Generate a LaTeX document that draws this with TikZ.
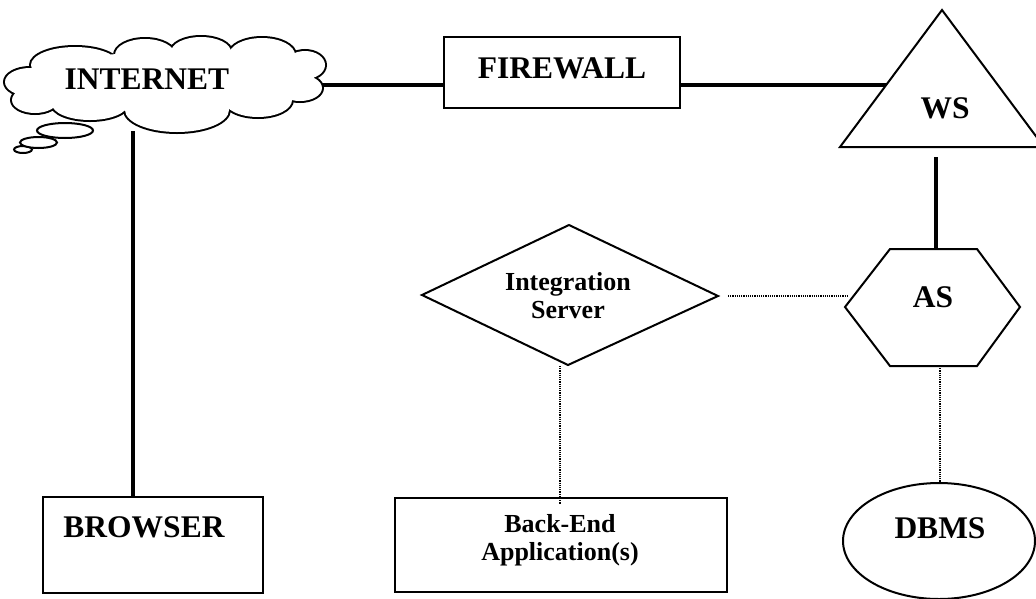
\documentclass[tikz,border=0pt]{standalone}
\usepackage{fontspec}
\setmainfont{Liberation Serif}
\usetikzlibrary{shapes.geometric}
\begin{document}
\begin{tikzpicture}[x=1pt, y=-1pt,
  outline/.style={draw, line width=2pt},
  boxnode/.style={outline, rectangle, inner sep=0pt},
  link/.style={line width=4.7pt},
  dotlink/.style={line width=1.3pt, dash pattern=on 1.1pt off 1.1pt},
  lbl/.style={font=\bfseries\fontsize{31.5}{35}\selectfont, inner sep=0pt},
  smalllbl/.style={font=\bfseries\fontsize{26}{28}\selectfont, align=center, inner sep=0pt}]
\clip (0,0) rectangle (1036,598);
\fill[white] (0,0) rectangle (1036,598);

% ---- cloud: union of lobes, stroked wide then filled so only the outer rim remains
\def\lobes{(30,82) ellipse [x radius=25, y radius=14]
  (75,65) ellipse [x radius=44, y radius=18]
  (145,55) ellipse [x radius=30, y radius=16]
  (201,52) ellipse [x radius=30, y radius=15]
  (262,55) ellipse [x radius=33, y radius=17]
  (305,65) ellipse [x radius=20, y radius=14]
  (300,88) ellipse [x radius=22, y radius=13]
  (258,100) ellipse [x radius=34, y radius=17]
  (177,110) ellipse [x radius=52, y radius=22]
  (90,104) ellipse [x radius=38, y radius=16]
  (35,100) ellipse [x radius=23, y radius=13]}
\draw[line width=4pt] \lobes;
\fill[white] \lobes (165,82) ellipse [x radius=135, y radius=30]
  (288,76) ellipse [x radius=26, y radius=16];
% thought bubbles
\draw[outline, fill=white] (23,149.5) ellipse [x radius=9, y radius=3.5];
\draw[outline, fill=white] (38.5,142.5) ellipse [x radius=18.5, y radius=5.5];
\draw[outline, fill=white] (65,130.5) ellipse [x radius=28, y radius=7.5];
\node[lbl, anchor=base] (inet) at (147,89) {INTERNET};
\coordinate (cloudE) at (322,85);
\coordinate (cloudS) at (133,131);

% ---- firewall
\node[boxnode, minimum width=236, minimum height=71] (fw) at (562,72.5) {};
\node[lbl, anchor=base] (fwtext) at (562,78) {FIREWALL};

% ---- web server triangle
\draw[outline, line join=miter] (942,10) -- (1044,147) -- (840,147) -- cycle;
\node[lbl, anchor=base] (ws) at (945,118) {WS};
\coordinate (wsW) at (886,85);
\coordinate (wsS) at (936,147);

% ---- application server hexagon
\draw[outline] (845,307) -- (890,249) -- (977,249) -- (1020,307) -- (977,366) -- (890,366) -- cycle;
\node[lbl, anchor=base] (as) at (933,307) {AS};
\coordinate (asN) at (936,249);
\coordinate (asS) at (940,366);
\coordinate (asW) at (847,296);

% ---- integration server diamond
\draw[outline] (422,295) -- (569,225) -- (718,296) -- (568,365) -- cycle;
\node[smalllbl] (is) at (568,296) {Integration\\Server};
\coordinate (isE) at (718,296);
\coordinate (isS) at (560,366);

% ---- lower row
\node[boxnode, minimum width=220, minimum height=96] (br) at (153,545) {};
\node[lbl, anchor=base] (brtext) at (144,537) {BROWSER};
\node[boxnode, minimum width=332, minimum height=94] (be) at (561,545) {};
\node[smalllbl] (betext) at (560,540) {Back-End\\Application(s)};
\node[ellipse, outline, minimum width=192, minimum height=116, inner sep=0pt] (db) at (939,541) {};
\node[lbl, anchor=base] (dbtext) at (940,538) {DBMS};

% ---- connectors
\draw[link] (cloudE) -- (cloudE -| fw.west);
\draw[link] (fw.east |- wsW) -- (wsW);
\draw[link] (cloudS) -- (cloudS |- br.north);
\draw[link, shorten <=10pt] (wsS) -- (asN);
\draw[dotlink, shorten <=10pt] (isE) -- (asW);
\draw[dotlink, shorten >=-7pt] (isS) -- (isS |- be.north);
\draw[dotlink] (asS) -- (asS |- db.north);
\end{tikzpicture}
\end{document}
